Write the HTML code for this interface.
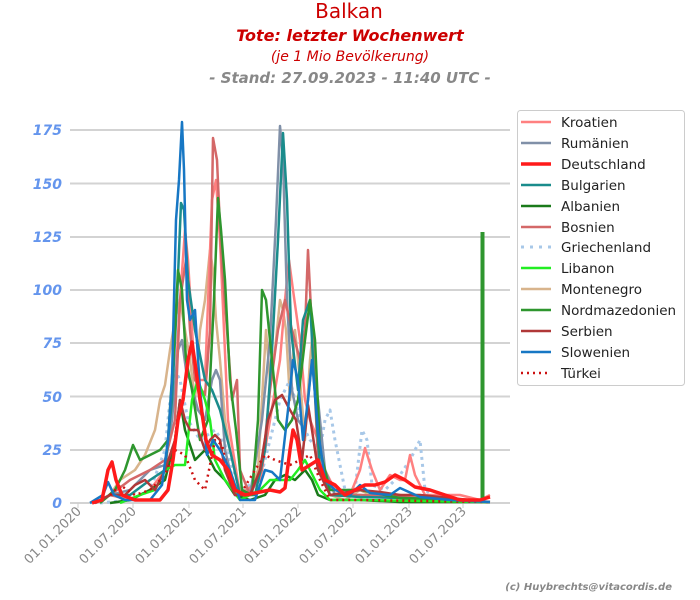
<!DOCTYPE html>
<html><head><meta charset="utf-8"><style>
body{margin:0;background:#fff;}
svg{display:block;font-family:"DejaVu Sans","Liberation Sans",sans-serif;}
</style></head><body>
<svg width="700" height="600" viewBox="0 0 700 600" xmlns="http://www.w3.org/2000/svg">
<rect width="700" height="600" fill="#fff"/>
<text x="349" y="18" text-anchor="middle" font-size="20" fill="#cc0000">Balkan</text>
<text x="350" y="41" text-anchor="middle" font-size="16" font-weight="bold" font-style="italic" fill="#cc0000">Tote: letzter Wochenwert</text>
<text x="350" y="61" text-anchor="middle" font-size="14" font-style="italic" fill="#cc0000">(je 1 Mio Bevölkerung)</text>
<text x="350" y="83" text-anchor="middle" font-size="15" font-weight="bold" font-style="italic" fill="#888">- Stand: 27.09.2023 - 11:40 UTC -</text>
<g stroke="#d3d3d3" stroke-width="2">
<line x1="70" x2="510" y1="130" y2="130"/><line x1="70" x2="510" y1="183.5" y2="183.5"/>
<line x1="70" x2="510" y1="237" y2="237"/><line x1="70" x2="510" y1="290" y2="290"/>
<line x1="70" x2="510" y1="343" y2="343"/><line x1="70" x2="510" y1="396.5" y2="396.5"/>
<line x1="70" x2="510" y1="450" y2="450"/><line x1="70" x2="510" y1="503" y2="503"/>
</g>
<g font-size="14" font-weight="bold" font-style="italic" fill="#6495ed" text-anchor="end">
<text x="62" y="135">175</text><text x="62" y="189">150</text><text x="62" y="242">125</text>
<text x="62" y="295">100</text><text x="62" y="348">75</text><text x="62" y="402">50</text>
<text x="62" y="455">25</text><text x="62" y="508">0</text>
</g>
<g stroke="#ccc" stroke-width="1">
<line x1="78" x2="78" y1="503" y2="508"/><line x1="133" x2="133" y1="503" y2="508"/><line x1="189" x2="189" y1="503" y2="508"/><line x1="243" x2="243" y1="503" y2="508"/><line x1="298" x2="298" y1="503" y2="508"/><line x1="353" x2="353" y1="503" y2="508"/><line x1="409" x2="409" y1="503" y2="508"/><line x1="463" x2="463" y1="503" y2="508"/>
</g>
<g font-size="13" fill="#888" text-anchor="end">
<text transform="translate(82,512) rotate(-45)">01.01.2020</text>
<text transform="translate(137,512) rotate(-45)">01.07.2020</text>
<text transform="translate(193,512) rotate(-45)">01.01.2021</text>
<text transform="translate(247,512) rotate(-45)">01.07.2021</text>
<text transform="translate(302,512) rotate(-45)">01.01.2022</text>
<text transform="translate(357,512) rotate(-45)">01.07.2022</text>
<text transform="translate(413,512) rotate(-45)">01.01.2023</text>
<text transform="translate(467,512) rotate(-45)">01.07.2023</text>
</g>
<g fill="none" stroke-linejoin="round" stroke-width="2.5">
<!-- Montenegro -->
<polyline stroke="#d8b48c" points="100,503 110,495 120,480 135,470 145,455 155,430 160,400 165,385 170,350 175,320 180,300 185,330 190,360 195,400 200,330 205,300 210,250 213,270 216,320 220,360 225,420 230,450 240,490 250,490 258,470 262,400 266,330 270,380 275,350 280,300 283,310 286,330 290,400 295,330 300,380 305,440 310,360 313,330 317,400 322,470 330,495 345,500 360,490 370,495 400,495 440,500 490,502"/>
<!-- Griechenland -->
<polyline stroke="#a8c8e8" stroke-dasharray="3,4" stroke-width="3" points="100,503 130,500 150,490 165,450 170,400 175,370 180,380 188,420 200,440 215,430 225,445 240,490 260,480 270,440 280,400 290,380 300,420 310,440 320,450 325,420 330,410 335,440 345,490 355,490 362,430 367,440 372,485 385,490 400,475 410,460 420,440 425,490 440,500 480,502"/>
<!-- Kroatien -->
<polyline stroke="#ff8080" points="95,503 110,495 130,500 150,490 165,470 175,390 180,300 185,230 188,260 195,380 205,380 212,200 216,180 220,240 228,420 240,495 260,480 270,420 280,360 285,300 289,260 293,290 300,340 305,400 310,420 318,440 325,470 335,490 350,495 360,470 365,448 372,470 380,490 390,475 400,480 405,480 410,455 415,475 425,495 440,495 460,495 480,500 490,495"/>
<!-- Rumänien -->
<polyline stroke="#8090a8" points="95,503 110,495 130,490 150,470 165,465 172,420 178,350 182,340 186,370 190,380 198,410 205,420 212,380 216,370 220,380 225,450 235,490 250,495 262,420 270,340 276,220 280,126 283,160 287,300 292,390 298,420 305,430 312,360 318,400 325,470 335,495 360,495 400,497 440,500 490,502"/>
<!-- Bosnien -->
<polyline stroke="#d46868" points="95,503 110,495 130,480 150,470 165,460 175,420 180,300 186,260 190,330 195,380 205,395 210,330 213,138 217,160 221,250 227,330 232,400 237,380 240,470 250,495 262,470 270,390 278,330 285,300 292,330 300,360 305,330 308,250 312,330 318,460 330,495 360,495 400,497 490,502"/>
<!-- Bulgarien -->
<polyline stroke="#1a8c8c" points="95,503 110,495 130,495 150,480 165,470 172,400 177,300 181,203 184,210 188,280 195,330 205,380 212,390 220,410 230,450 240,495 255,495 265,450 272,350 278,240 283,133 287,200 291,330 298,390 303,320 310,300 314,380 320,470 330,495 360,497 400,498 490,502"/>
<!-- Albanien -->
<polyline stroke="#1a7a1a" points="110,503 130,500 150,490 165,480 175,440 180,400 185,430 195,460 205,450 215,470 225,480 235,495 250,500 265,495 275,480 285,475 295,480 305,470 312,480 318,495 330,500 360,500 400,502 490,502"/>
<!-- Nordmazedonien -->
<polyline stroke="#2e962e" points="100,503 115,490 125,470 133,445 140,460 150,455 160,450 168,440 175,330 178,270 182,290 186,360 192,390 200,440 208,420 214,300 218,198 221,230 225,280 230,380 236,430 242,490 252,495 258,420 262,290 266,300 272,360 278,420 285,430 292,420 298,400 305,340 310,300 315,340 320,450 330,490 360,490 400,498 480,500 482,500"/>
<line x1="482.5" y1="503" x2="482.5" y2="232" stroke="#2e962e" stroke-width="4"/>
<!-- Libanon -->
<polyline stroke="#22ee22" points="120,503 140,495 155,490 165,470 175,465 185,465 192,400 198,380 205,400 210,420 215,460 225,480 240,500 260,490 270,480 280,480 290,480 298,470 305,460 310,470 320,490 330,500 360,500 490,502"/>
<!-- Serbien -->
<polyline stroke="#b03838" points="95,503 110,495 125,495 135,485 145,480 155,490 165,470 175,440 180,400 185,420 190,430 198,430 205,450 210,440 215,435 220,440 225,470 235,495 250,495 260,470 268,420 275,400 282,395 290,410 296,420 302,460 308,405 312,430 318,470 330,495 360,490 380,492 400,495 420,495 490,502"/>
<!-- Türkei -->
<polyline stroke="#cc1111" stroke-dasharray="2,4" points="110,495 120,485 135,495 150,490 165,475 175,450 185,455 195,480 205,490 215,440 222,445 230,480 240,495 255,470 265,455 275,460 290,465 300,460 310,455 320,480 330,500 360,500 490,502"/>
<!-- Slowenien -->
<polyline stroke="#1777c4" points="90,503 103,495 108,482 114,495 125,500 150,500 162,485 168,440 172,380 176,220 179,180 182,122 184,170 187,300 190,320 195,310 200,390 207,455 213,440 220,450 230,470 240,500 255,500 265,470 272,472 280,480 288,410 293,360 298,380 303,440 308,400 312,360 318,430 325,480 335,490 350,495 360,485 370,493 390,495 400,488 420,497 450,500 490,502"/>
<!-- Deutschland -->
<polyline stroke="#ff1a1a" stroke-width="3.5" points="92,503 102,500 108,470 112,462 116,480 122,495 135,500 150,500 160,500 168,490 173,460 178,420 183,400 188,360 192,342 196,370 200,400 206,440 212,455 220,460 228,470 235,490 245,495 260,492 270,490 280,492 285,488 290,450 293,430 297,440 302,470 310,465 318,460 325,480 335,485 345,495 355,490 365,485 375,485 385,482 395,475 405,480 415,487 430,490 445,495 460,500 480,500 490,497"/>
</g>
<rect x="517.5" y="110.5" width="167" height="275" rx="3" fill="#fff" stroke="#ccc"/>
<g stroke-width="2.5">
<line x1="521" x2="551" y1="122" y2="122" stroke="#ff8080"/>
<line x1="521" x2="551" y1="143" y2="143" stroke="#8090a8"/>
<line x1="521" x2="551" y1="164" y2="164" stroke="#ff1a1a" stroke-width="3.5"/>
<line x1="521" x2="551" y1="185" y2="185" stroke="#1a8c8c"/>
<line x1="521" x2="551" y1="206" y2="206" stroke="#1a7a1a"/>
<line x1="521" x2="551" y1="227" y2="227" stroke="#d46868"/>
<line x1="521" x2="551" y1="247" y2="247" stroke="#a8c8e8" stroke-dasharray="3,6" stroke-width="3"/>
<line x1="521" x2="551" y1="268" y2="268" stroke="#22ee22"/>
<line x1="521" x2="551" y1="289" y2="289" stroke="#d8b48c"/>
<line x1="521" x2="551" y1="310" y2="310" stroke="#2e962e"/>
<line x1="521" x2="551" y1="331" y2="331" stroke="#b03838"/>
<line x1="521" x2="551" y1="352" y2="352" stroke="#1777c4"/>
<line x1="521" x2="551" y1="373" y2="373" stroke="#cc1111" stroke-dasharray="2,4"/>
</g>
<g font-size="13.5" fill="#222">
<text x="561" y="127">Kroatien</text><text x="561" y="148">Rumänien</text><text x="561" y="169">Deutschland</text>
<text x="561" y="190">Bulgarien</text><text x="561" y="211">Albanien</text><text x="561" y="232">Bosnien</text>
<text x="561" y="252">Griechenland</text><text x="561" y="273">Libanon</text><text x="561" y="294">Montenegro</text>
<text x="561" y="315">Nordmazedonien</text><text x="561" y="336">Serbien</text><text x="561" y="357">Slowenien</text>
<text x="561" y="378">Türkei</text>
</g>
<text x="672" y="590" text-anchor="end" font-size="10" font-weight="bold" font-style="italic" fill="#888">(c) Huybrechts@vitacordis.de</text>
</svg>
</body></html>
